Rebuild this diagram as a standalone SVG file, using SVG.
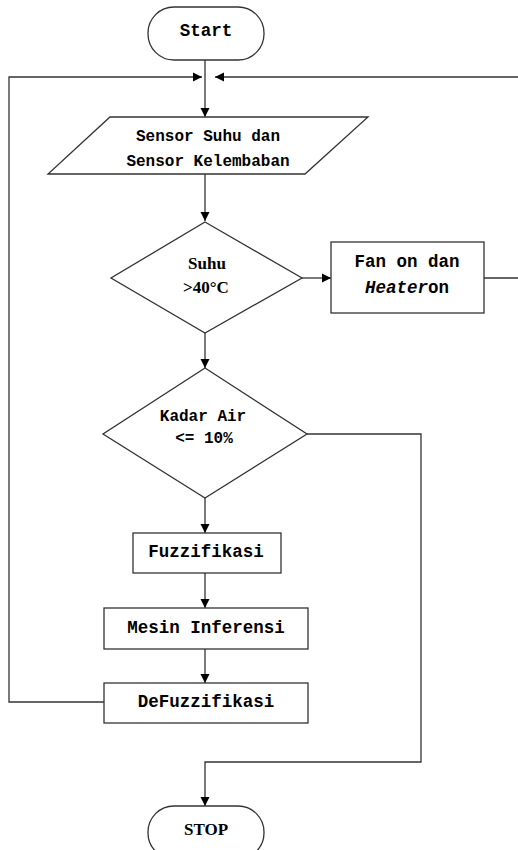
<svg xmlns="http://www.w3.org/2000/svg" width="518" height="850" viewBox="0 0 518 850">
<defs>
<marker id="ah" markerWidth="10" markerHeight="10" refX="9" refY="5" orient="auto" markerUnits="userSpaceOnUse">
<path d="M0,0.5 L9,5 L0,9.5 Z" fill="#000"/>
</marker>
</defs>
<style>
.shape{fill:#fff;stroke:#333;stroke-width:1.3}
.ln{fill:none;stroke:#333;stroke-width:1.3}
.t{font-family:"Liberation Mono","Courier New",monospace;font-weight:bold;font-size:17.5px;fill:#000;text-anchor:middle}
.ts{font-family:"Liberation Mono","Courier New",monospace;font-weight:bold;font-size:16px;fill:#000;text-anchor:middle}
.tr{font-family:"Liberation Serif","Times New Roman",serif;font-weight:bold;font-size:17px;fill:#000;text-anchor:middle}
</style>
<rect width="518" height="850" fill="#fff"/>
<g id="connectors">
<path class="ln" d="M205,60 V117" marker-end="url(#ah)"/>
<path class="ln" d="M104,702 H9 V77 H202" marker-end="url(#ah)"/>
<path class="ln" d="M484,278 H521 V77 H215" marker-end="url(#ah)"/>
<path class="ln" d="M205,174 V221" marker-end="url(#ah)"/>
<path class="ln" d="M302,278 H331" marker-end="url(#ah)"/>
<path class="ln" d="M205,333 V368" marker-end="url(#ah)"/>
<path class="ln" d="M205,498 V533" marker-end="url(#ah)"/>
<path class="ln" d="M205,573 V608" marker-end="url(#ah)"/>
<path class="ln" d="M205,649 V683" marker-end="url(#ah)"/>
<path class="ln" d="M307,434 H421 V762 H205 V806" marker-end="url(#ah)"/>
</g>
<g id="start">
<rect class="shape" x="148" y="7" width="116" height="53" rx="26" ry="26"/>
<text class="t" x="206" y="36">Start</text>
</g>
<g id="sensor">
<polygon class="shape" points="110,117 368,117 305,174 48,174"/>
<text class="ts" x="208" y="141">Sensor Suhu dan</text>
<text class="ts" x="208" y="166">Sensor Kelembaban</text>
</g>
<g id="suhu">
<polygon class="shape" points="205,222 302,278 205,333 111,278"/>
<text class="tr" x="207" y="269">Suhu</text>
<text class="tr" x="206" y="293">&gt;40°C</text>
</g>
<g id="fan">
<rect class="shape" x="331" y="242" width="153" height="71"/>
<text class="t" x="407" y="267">Fan on dan</text>
<text class="t" x="407" y="293"><tspan font-style="italic">Heater</tspan>on</text>
</g>
<g id="kadar">
<polygon class="shape" points="205,368 307,434 205,498 103,434"/>
<text class="ts" x="203" y="421">Kadar Air</text>
<text class="ts" x="204" y="443">&lt;= 10%</text>
</g>
<g id="fuzzifikasi">
<rect class="shape" x="133" y="533" width="148" height="40"/>
<text class="t" x="206" y="557">Fuzzifikasi</text>
</g>
<g id="inferensi">
<rect class="shape" x="104" y="608" width="204" height="41"/>
<text class="t" x="206" y="633">Mesin Inferensi</text>
</g>
<g id="defuzzifikasi">
<rect class="shape" x="104" y="683" width="204" height="40"/>
<text class="t" x="206" y="707">DeFuzzifikasi</text>
</g>
<g id="stop">
<rect class="shape" x="148" y="806" width="116" height="53" rx="26" ry="26"/>
<text class="tr" x="206" y="835">STOP</text>
</g>
</svg>
